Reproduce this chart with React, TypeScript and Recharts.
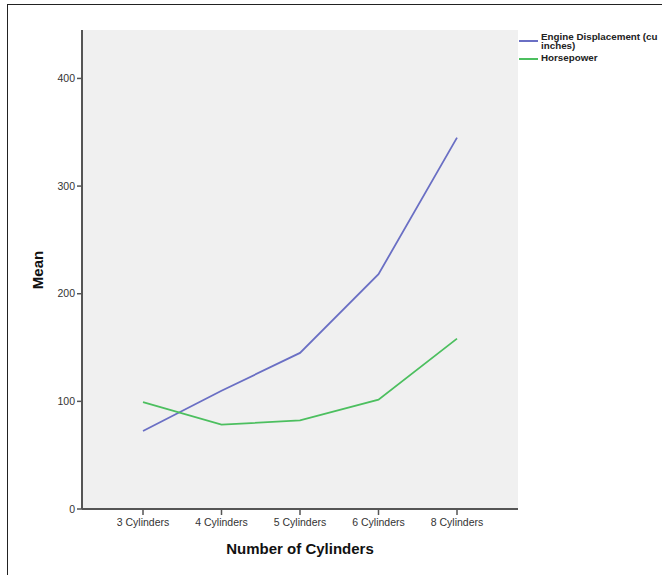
// Mean engine displacement and horsepower by number of cylinders (SPSS-style line chart)

import { CartesianGrid, Line, LineChart, XAxis, YAxis } from "recharts";

const categories = ["3 Cylinders", "4 Cylinders", "5 Cylinders", "6 Cylinders", "8 Cylinders"];
const displacement = [72.5, 109.8, 145.0, 218.1, 345.0];
const horsepower = [99.3, 78.3, 82.3, 101.5, 158.3];
const yTicks = [0, 100, 200, 300, 400];

const data = categories.map((c, i) => ({
  cyl: c,
  displacement: displacement[i],
  horsepower: horsepower[i],
}));

const font = "'Liberation Sans', Arial, sans-serif";
const tickStyle = { fill: "#333", fontSize: 10.5, fontFamily: font } as const;
const frame = "#555";

const series = [
  { key: "displacement", name: "Engine Displacement (cu inches)", color: "#6a6fc4" },
  { key: "horsepower", name: "Horsepower", color: "#4cbf5f" },
];

function LegendBox() {
  return (
    <div style={{ position: "absolute", left: 519, top: 32, width: 140, fontFamily: font, fontSize: 9.8,
                  fontWeight: "bold", color: "#222", lineHeight: "9px" }}>
      {series.map((s) => (
        <div key={s.key} style={{ display: "flex", alignItems: "flex-start", marginBottom: 3 }}>
          <span style={{ width: 19, height: 1.5, background: s.color, marginTop: s.key === "displacement" ? 8 : 5, marginRight: 3, flexShrink: 0 }} />
          <span style={{ width: 118 }}>{s.name}</span>
        </div>
      ))}
    </div>
  );
}

export default function App() {
  return (
    <div style={{ position: "fixed", left: 0, top: 0, width: 662, height: 575, background: "#fff" }}>
      <div style={{ position: "absolute", left: 7, top: 4, right: -2, bottom: -2, borderTop: "1.5px solid #222", borderLeft: "1.5px solid #222" }} />
      <LineChart width={662} height={575} data={data} margin={{ top: 30, right: 144, bottom: 36, left: 42 }}
                 style={{ position: "absolute", left: 0, top: 0 }}>
        <CartesianGrid fill="#f0f0f0" horizontal={false} vertical={false} />
        <XAxis dataKey="cyl" scale="point" padding={{ left: 61, right: 61 }} height={30}
               tick={{ ...tickStyle, dy: 2 }} tickLine={{ stroke: frame, strokeWidth: 1.5 }} tickSize={6}
               axisLine={{ stroke: frame, strokeWidth: 2 }} interval={0} />
        <XAxis xAxisId="top" orientation="top" dataKey="cyl" height={0} tick={false} tickLine={false}
               axisLine={{ stroke: frame, strokeWidth: 2 }} />
        <YAxis domain={[0, 445]} ticks={yTicks} width={40} tick={tickStyle}
               tickLine={{ stroke: frame, strokeWidth: 1.5 }} tickSize={5}
               axisLine={{ stroke: frame, strokeWidth: 2 }} />
        <YAxis yAxisId="right" orientation="right" width={0} tick={false} tickLine={false}
               axisLine={{ stroke: frame, strokeWidth: 2 }} />
        {series.map((s) => (
          <Line key={s.key} dataKey={s.key} name={s.name} type="linear" stroke={s.color}
                strokeWidth={1.8} dot={false} activeDot={false} isAnimationActive={false} />
        ))}
      </LineChart>
      <LegendBox />
      <div style={{ position: "absolute", left: 82, width: 436, top: 540, textAlign: "center",
                    fontFamily: font, fontWeight: "bold", fontSize: 15, color: "#111" }}>
        Number of Cylinders
      </div>
      <div style={{ position: "absolute", left: 37, top: 270, transform: "translate(-50%, -50%) rotate(-90deg)",
                    fontFamily: font, fontWeight: "bold", fontSize: 15, color: "#111" }}>
        Mean
      </div>
    </div>
  );
}
